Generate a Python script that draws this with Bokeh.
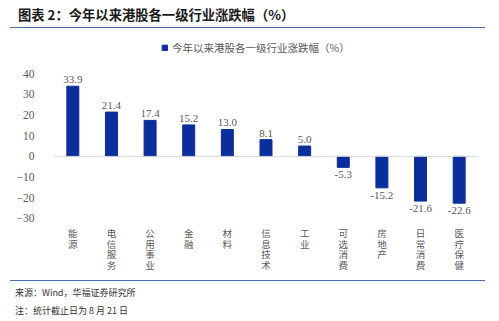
from bokeh.plotting import figure
from bokeh.models import (FactorRange, Span, Div, ColumnDataSource, Legend, LegendItem,
                          FixedTicker)
from bokeh.layouts import column
from bokeh.core.properties import value
from bokeh.embed import file_html
from bokeh.resources import INLINE

categories = ["能源", "电信服务", "公用事业", "金融", "材料", "信息技术", "工业",
              "可选消费", "房地产", "日常消费", "医疗保健"]
changes = [33.9, 21.4, 17.4, 15.2, 13.0, 8.1, 5.0, -5.3, -15.2, -21.6, -22.6]
y_ticks = [-30, -20, -10, 0, 10, 20, 30, 40]
title_text = "图表 2：今年以来港股各一级行业涨跌幅（%）"
series_name = "今年以来港股各一级行业涨跌幅（%）"
source_text = "来源：Wind，华福证券研究所"
note_text = "注：统计截止日为 8 月 21 日"

BAR = "#0a2f9c"
GRAY = "#595959"
CJK = "Noto Sans CJK SC"
SERIF = "Liberation Serif"

axis_min = min(y_ticks)

src = ColumnDataSource(dict(
    cat=categories,
    val=changes,
    lbl=[f"{v:.1f}" for v in changes],
    off=[-3 if v >= 0 else 4 for v in changes],
    base=["bottom" if v >= 0 else "top" for v in changes],
    vlab=["\n".join(c) for c in categories],
    lab_y=[axis_min] * len(categories),
))

p = figure(x_range=FactorRange(*categories, range_padding=0), y_range=(-59, 56),
           width=499, height=250, output_backend="svg", toolbar_location=None,
           min_border_left=53, min_border_right=21, min_border_top=10, min_border_bottom=2)
p.outline_line_color = None
p.background_fill_color = None
p.border_fill_color = None
p.xgrid.visible = False
p.ygrid.visible = False
p.xaxis.visible = False

r = p.vbar(x="cat", top="val", width=0.31, color=BAR, source=src)
p.add_layout(Span(location=0, dimension="width", line_color="#d9d9d9", line_width=1))

p.text(x="cat", y="val", text="lbl", y_offset="off", text_baseline="base", text_align="center",
       text_font=value(SERIF), text_font_size="11px", text_color=GRAY, source=src)

p.text(x="cat", y="lab_y", text="vlab", y_offset=8, text_baseline="top", text_align="center",
       text_font=value(CJK), text_font_size="9.5px", text_color=GRAY, text_line_height=0.74,
       source=src)

p.yaxis.ticker = FixedTicker(ticks=y_ticks)
p.yaxis.axis_line_color = None
p.yaxis.major_tick_line_color = None
p.yaxis.minor_tick_line_color = None
p.yaxis.major_label_standoff = 13
p.yaxis.major_label_text_font = SERIF
p.yaxis.major_label_text_font_size = "11.5px"
p.yaxis.major_label_text_color = GRAY

legend = Legend(items=[LegendItem(label=series_name, renderers=[r])],
                location=(108, 223), orientation="horizontal",
                border_line_color=None, background_fill_alpha=0,
                label_text_font=CJK, label_text_font_size="10.5px", label_text_color=GRAY,
                glyph_width=7, glyph_height=7, padding=0, margin=0, label_standoff=4)
p.add_layout(legend)

title = Div(text=f'<div style="margin-left:10px;width:475px;height:28px;border-bottom:1.5px solid #4a6fb0;'
                 f'box-sizing:border-box;"><div style="padding-left:8px;padding-top:7px;font-family:\'{CJK}\';'
                 f'font-weight:bold;font-size:13.3px;color:#1a1a1a;line-height:16px;">{title_text}</div></div>',
            width=499, height=30, margin=0)

foot = Div(text=f'<div style="margin-left:10px;width:475px;border-top:1.5px solid #4a6fb0;box-sizing:border-box;'
                f'font-family:\'{CJK}\';font-size:9px;color:#333333;">'
                f'<div style="padding-left:5px;padding-top:6px;line-height:12px;">{source_text}</div>'
                f'<div style="padding-left:5px;padding-top:6px;line-height:12px;">{note_text}</div></div>',
           width=499, height=41, margin=0)

layout = column(title, p, foot, spacing=0, margin=0)
open("out.html", "w").write(file_html(layout, INLINE))
